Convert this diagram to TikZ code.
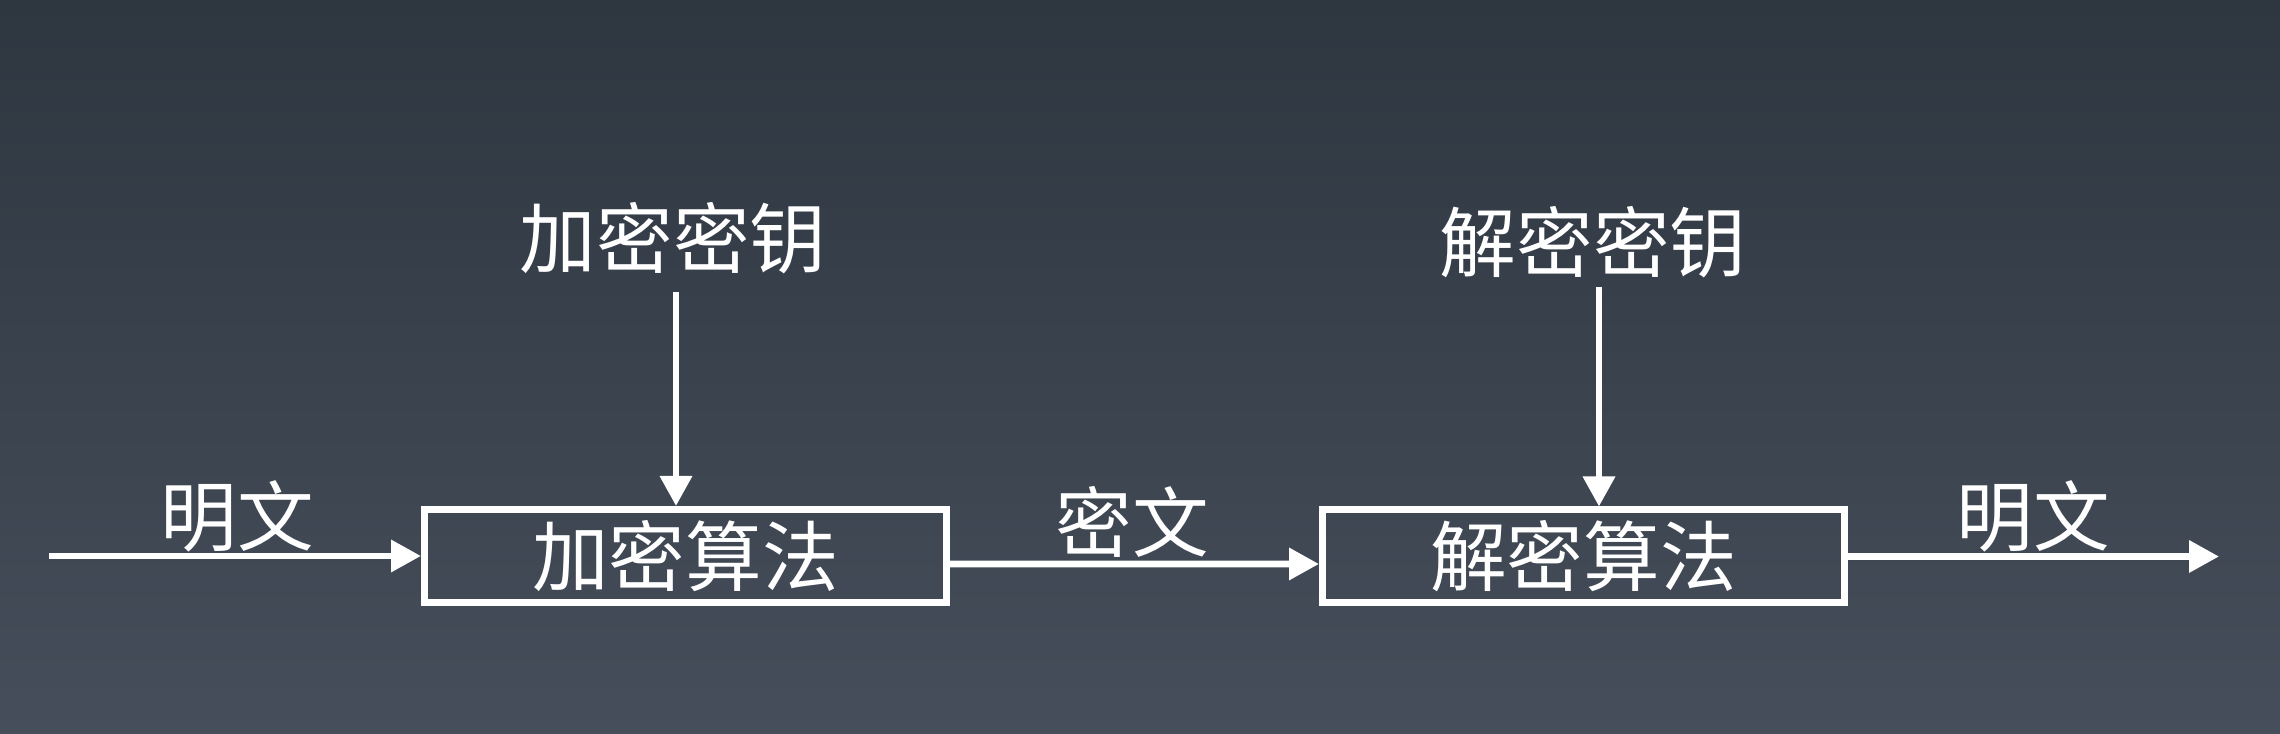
\documentclass[tikz,border=0pt]{standalone}
\usepackage{fontspec}
\newfontfamily\cjk{Noto Sans CJK SC}
\usetikzlibrary{arrows.meta,calc}
\definecolor{bgtop}{RGB}{46,54,64}
\definecolor{bgbot}{RGB}{69,78,90}
\tikzset{
  lbl/.style={font=\cjk\fontsize{21.8pt}{24pt}\selectfont, text=white, inner sep=0pt, text height=0.675cm, text depth=0.09cm},
  algbox/.style={lbl, draw=white, line width=0.07cm, minimum width=5.22cm, minimum height=0.93cm},
  flow/.style={draw=white, line width=0.066cm, -{Triangle[length=0.30cm,width=0.31cm]}}
}
\begin{document}
\begin{tikzpicture}
\shade[top color=bgtop, bottom color=bgbot] (0,0) rectangle (22.8,7.34);
\useasboundingbox (0,0) rectangle (22.8,7.34);

\node[algbox] (b1) at (6.855,1.78) {加密算法};
\node[algbox] (b2) at (15.835,1.775) {解密算法};

\node[lbl] (k1) at (6.73,4.96) {加密密钥};
\node[lbl] (k2) at (15.93,4.92) {解密密钥};
\node[lbl] (p1) at (2.37,2.18) {明文};
\node[lbl] (c1) at (11.32,2.12) {密文};
\node[lbl] (p2) at (20.33,2.18) {明文};

\coordinate (s0) at (0.49,1.78);
\coordinate (e0) at (22.19,1.775);
\coordinate (v1) at (6.76,4.42);
\coordinate (v2) at (15.99,4.47);

\draw[flow] (s0) -- (b1.west);
\draw[flow] ([yshift=-0.08cm]b1.east) -- ([yshift=-0.075cm]b2.west);
\draw[flow] (b2.east) -- (e0 |- b2.east);
\draw[flow] (v1) -- (v1 |- b1.north);
\draw[flow] (v2) -- (v2 |- b2.north);
\end{tikzpicture}
\end{document}
